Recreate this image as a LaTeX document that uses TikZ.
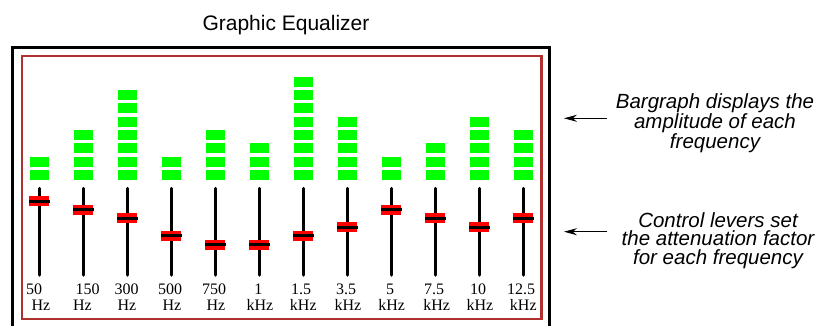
\documentclass[tikz,border=0pt]{standalone}
\usepackage{fontspec}
\setmainfont{Liberation Serif}
\setsansfont{Liberation Sans}
\usetikzlibrary{arrows.meta}
\definecolor{framered}{RGB}{176,48,48}
\definecolor{bargreen}{RGB}{0,255,0}
\definecolor{knobred}{RGB}{255,0,0}
\begin{document}
\begin{tikzpicture}[x=1pt,y=-1pt,
  outerframe/.style={draw=black,line width=3},
  innerframe/.style={draw=framered,line width=2.6},
  barblock/.style={fill=bargreen},
  slider/.style={line width=3.5,line cap=round},
  knob/.style={fill=knobred,inner sep=0pt,minimum width=20,minimum height=10},
  knobline/.style={line width=3},
  lbl/.style={font=\fontsize{16}{16}\selectfont,inner sep=0pt,anchor=base},
  note/.style={font=\sffamily\itshape\fontsize{20.5}{18.4}\selectfont,inner sep=0pt,anchor=base,align=center},
  titlefont/.style={font=\sffamily\fontsize{21}{21}\selectfont,inner sep=0pt,anchor=base},
  callout/.style={line width=1,-{Stealth[length=13,width=7]}}]
\useasboundingbox (0,0) rectangle (830,325);
\clip (0,0) rectangle (830,325);
\fill[white] (0,0) rectangle (830,325);
% title
\node[titlefont] (title) at (286,30) {Graphic Equalizer};
% frames
\draw[outerframe] (12.5,47.3) rectangle (549.7,345);
\draw[innerframe] (22,56) rectangle (541.7,319);
% columns
\foreach \nb/\lv/\xa/\xb/\numtxt/\unittxt [count=\c] in {
  2/0/34/41/50/Hz,
  4/1/87.5/82.5/150/Hz,
  7/2/126.7/127/300/Hz,
  2/4/170/172/500/Hz,
  4/5/214/216/750/Hz,
  3/5/258.3/260/1/kHz,
  8/4/301/303.3/1.5/kHz,
  5/3/346/348/3.5/kHz,
  2/1/390/391.7/5/kHz,
  3/2/434/436.7/7.5/kHz,
  5/3/478/480/10/kHz,
  4/2/521/523.3/12.5/kHz}{
  \pgfmathsetmacro\xx{39.3+44*(\c-1)}
  \pgfmathsetmacro\yy{201+8.7*\lv}
  \foreach \j in {1,...,\nb}{
    \fill[barblock] (\xx-9.5,{180-13.33*(\j-1)}) rectangle (\xx+9.5,{170-13.33*(\j-1)});
  }
  \draw[slider] (\xx,188.5) -- (\xx,275);
  \node[knob] (k\c) at (\xx,\yy) {};
  \draw[knobline] (k\c.west) -- (k\c.east);
  \node[lbl] (t\c) at (\xa,294.5) {\numtxt};
  \node[lbl] (u\c) at (\xb,310.5) {\unittxt};
}
% notes
\node[note] (n1) at (715,148.7) {Bargraph displays the\\amplitude of each\\frequency};
\node[note] (n2) at (718,264.2) {Control levers set\\the attenuation factor\\for each frequency};
\coordinate (a1s) at (607,118.3);
\coordinate (a1e) at (564,118.3);
\coordinate (a2s) at (607,231.7);
\coordinate (a2e) at (564,231.7);
\draw[callout] (a1s) -- (a1e);
\draw[callout] (a2s) -- (a2e);
\end{tikzpicture}
\end{document}
